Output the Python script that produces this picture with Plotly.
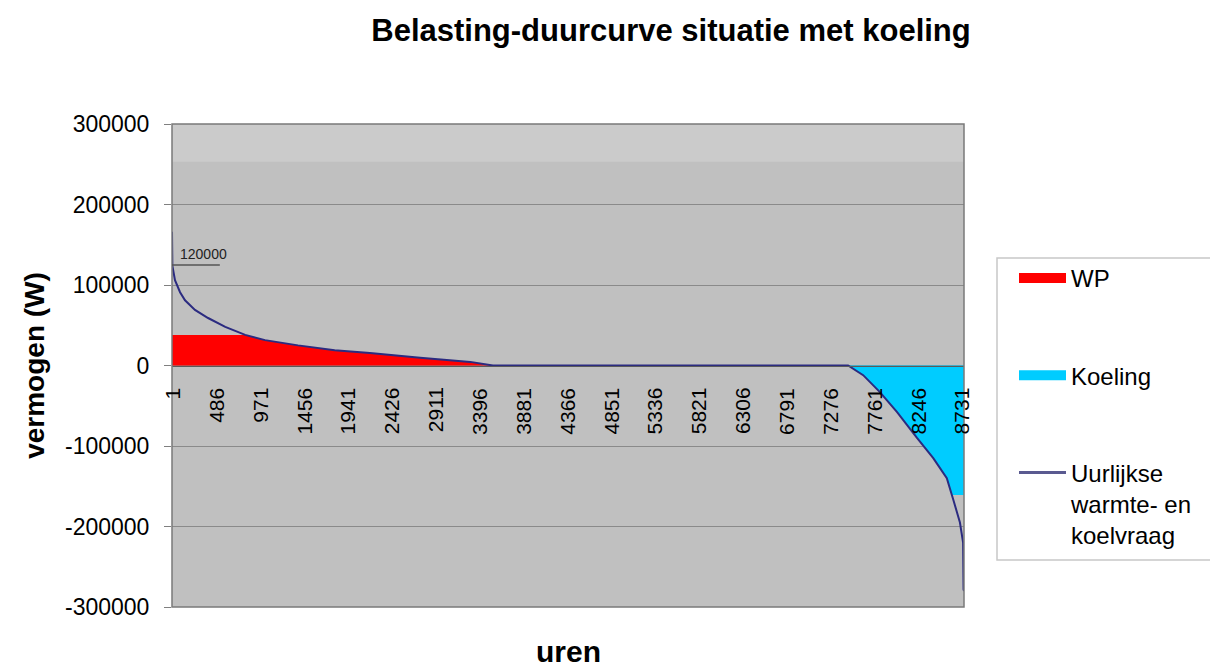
import plotly.graph_objects as go

# ---- data ----
hours = [1, 5, 34, 90, 145, 255, 400, 590, 810, 1030, 1395, 1800, 2190, 2745,
         3300, 3550, 7478, 7645, 7830, 8020, 8240, 8420, 8570, 8630, 8645,
         8715, 8750, 8755, 8760]
demand = [166000, 124000, 106000, 91000, 81000, 69000, 59000, 48000, 38000,
          31500, 25000, 19000, 15500, 9500, 4500, 0, 0, -12000, -33000,
          -58000, -90000, -115000, -140000, -161000, -168000, -195000,
          -220000, -278000, -280000]
wp_cap = 38000          # heat pump capacity (W)
koeling_cap = -161000   # cooling capacity (W)
marker_level = 125000   # small marked level near the peak
marker_label = "120000"

x_tickvals = [1, 486, 971, 1456, 1941, 2426, 2911, 3396, 3881, 4366, 4851,
              5336, 5821, 6306, 6791, 7276, 7761, 8246, 8731]
x_ticktext = [str(v) for v in x_tickvals]
y_tickvals = [300000, 200000, 100000, 0, -100000, -200000, -300000]
y_ticktext = ["300000", "200000", "100000", "0", "-100000", "-200000", "-300000"]

# ---- derived series ----
wp_x = [h for h, d in zip(hours, demand) if h <= 3550]
wp_y = [min(d, wp_cap) for h, d in zip(hours, demand) if h <= 3550]
kl_x = [h for h, d in zip(hours, demand) if h >= 7478]
kl_y = [max(d, koeling_cap) for h, d in zip(hours, demand) if h >= 7478]

FONT = "Liberation Sans, Arial, sans-serif"
NARROW = "Liberation Sans Narrow, Arial Narrow, Liberation Sans, Arial, sans-serif"
RED = "#ff0000"
CYAN = "#00ccff"
NAVY = "#2b2b80"

fig = go.Figure()
fig.add_trace(go.Scatter(x=wp_x, y=wp_y, name="WP", mode="lines",
                         line=dict(width=0, color=RED),
                         fill="tozeroy", fillcolor=RED, showlegend=False,
                         legendgroup="a", hoverinfo="skip"))
fig.add_trace(go.Scatter(x=kl_x, y=kl_y, name="Koeling", mode="lines",
                         line=dict(width=0, color=CYAN),
                         fill="tozeroy", fillcolor=CYAN, showlegend=False,
                         legendgroup="b", hoverinfo="skip"))
fig.add_trace(go.Scatter(x=hours, y=demand,
                         name="Uurlijkse<br>warmte- en<br>koelvraag",
                         mode="lines", line=dict(width=2, color=NAVY),
                         showlegend=False, legendgroup="c"))
# legend entries (swatches)
fig.add_trace(go.Scatter(x=[None], y=[None], name="WP", mode="lines",
                         line=dict(width=15, color=RED), legendgroup="a"))
fig.add_trace(go.Scatter(x=[None], y=[None], name="Koeling", mode="lines",
                         line=dict(width=15, color=CYAN), legendgroup="b"))
fig.add_trace(go.Scatter(x=[None], y=[None],
                         name="Uurlijkse<br>warmte- en<br>koelvraag",
                         mode="lines", line=dict(width=3, color="#5a5a90"),
                         legendgroup="c"))

# lighter top band of the plot area
fig.add_shape(type="rect", xref="paper", yref="y", x0=0, x1=1,
              y0=253000, y1=300000, fillcolor="#cbcbcb", line_width=0,
              layer="below")
# plot-area border
fig.add_shape(type="rect", xref="paper", yref="paper", x0=0, x1=1, y0=0, y1=1,
              line=dict(color="#7a7a7a", width=1.5), layer="above")
# legend box
fig.add_shape(type="rect", xref="paper", yref="paper",
              x0=(997 - 172) / 792, x1=(1214 - 172) / 792,
              y0=(607 - 560) / 483, y1=(607 - 258) / 483,
              fillcolor="white", line=dict(color="#c8c8c8", width=1.5),
              layer="below")
# marker line near the peak
fig.add_shape(type="line", xref="x", yref="y", x0=hours[0], x1=530,
              y0=marker_level, y1=marker_level,
              line=dict(color="#555555", width=1.5))
fig.add_annotation(x=70, y=marker_level, xref="x", yref="y", text=marker_label,
                   showarrow=False, xanchor="left", yanchor="bottom", yshift=1,
                   font=dict(family=FONT, size=14, color="#222222"))

# category labels hanging below the zero line (rotated, top-aligned)
for tv, tt in zip(x_tickvals, x_ticktext):
    fig.add_annotation(x=tv, y=0, xref="x", yref="y", text=tt,
                       textangle=-90, showarrow=False,
                       xanchor="center", yanchor="top", yshift=-20,
                       font=dict(family=NARROW, size=21, color="black"))

fig.add_annotation(text="<b>uren</b>", xref="paper", yref="paper",
                   x=0.5, y=-0.093, showarrow=False, yanchor="middle",
                   font=dict(family=FONT, size=30, color="black"))

fig.update_layout(
    width=1210, height=664,
    margin=dict(l=164, r=254, t=116, b=65),
    paper_bgcolor="white",
    plot_bgcolor="#c0c0c0",
    title=dict(text="<b>Belasting-duurcurve situatie met koeling</b>",
               x=(671 - 8) / 1210, xanchor="center", xref="container",
               y=1 - (30 - 8) / 664, yanchor="middle", yref="container",
               font=dict(family=FONT, size=31, color="black")),
    xaxis=dict(range=[1, 8760], anchor="free", position=0.5,
               tickvals=x_tickvals, showticklabels=False,
               ticks="", showgrid=False, zeroline=False,
               showline=True, linecolor="#5a5a5a", linewidth=1),
    yaxis=dict(range=[-300000, 300000], tickvals=y_tickvals,
               ticktext=y_ticktext, ticks="outside", ticklen=7,
               tickcolor="#808080", ticklabelstandoff=10,
               showgrid=True, gridcolor="#8a8a8a", gridwidth=1,
               zeroline=False, showline=False,
               tickfont=dict(family=FONT, size=23, color="black"),
               title=dict(text="<b>vermogen (W)</b>", standoff=12,
                          font=dict(family=FONT, size=28, color="black"))),
    legend=dict(x=(1014 - 172) / 792, y=(607 - 256) / 483,
                xanchor="left", yanchor="top",
                bgcolor="rgba(0,0,0,0)", borderwidth=0,
                tracegroupgap=63, valign="top", itemwidth=47,
                font=dict(family=FONT, size=24, color="black")),
    showlegend=True,
)

fig.write_html("out.html")
